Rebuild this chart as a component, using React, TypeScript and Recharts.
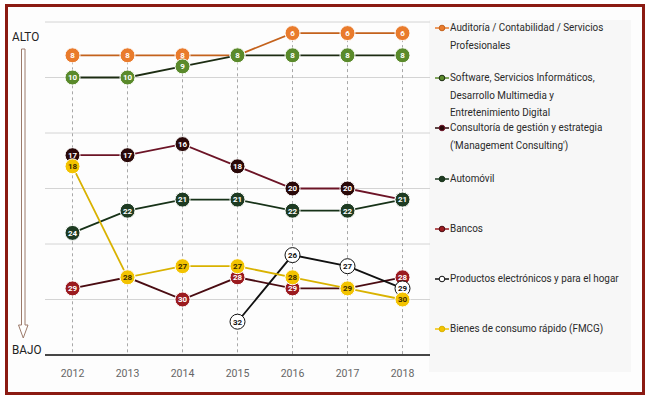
import React from 'react';
import { LineChart, Line, XAxis, YAxis, CartesianGrid, ReferenceLine } from 'recharts';

const years = [2012, 2013, 2014, 2015, 2016, 2017, 2018];
const auditoria = [8, 8, 8, 8, 6, 6, 6];
const software = [10, 10, 9, 8, 8, 8, 8];
const consultoria = [17, 17, 16, 18, 20, 20, 21];
const automovil = [24, 22, 21, 21, 22, 22, 21];
const bancos = [29, 28, 30, 28, 29, 29, 28];
const productos = [null, null, null, 32, 26, 27, 29];
const bienes = [18, 28, 27, 27, 28, 29, 30];
const rankTicks = [5, 10, 15, 20, 25, 30, 35];

interface Series {
  key: string;
  label: string[];
  values: (number | null)[];
  line: string;
  fill: string;
  ring: string;
  text: string;
}

const series: Series[] = [
  { key: 'auditoria', label: ['Auditoría / Contabilidad / Servicios', 'Profesionales'], values: auditoria, line: '#c4621c', fill: '#e97b2c', ring: '#ffffff', text: '#ffffff' },
  { key: 'software', label: ['Software, Servicios Informáticos,', 'Desarrollo Multimedia y', 'Entretenimiento Digital'], values: software, line: '#1c2c12', fill: '#5a8a2b', ring: '#ffffff', text: '#ffffff' },
  { key: 'consultoria', label: ['Consultoría de gestión y estrategia', "('Management Consulting')"], values: consultoria, line: '#6c1426', fill: '#2a0909', ring: '#ffffff', text: '#ffffff' },
  { key: 'automovil', label: ['Automóvil'], values: automovil, line: '#173218', fill: '#1e3b22', ring: '#ffffff', text: '#ffffff' },
  { key: 'bancos', label: ['Bancos'], values: bancos, line: '#4a0c12', fill: '#9b1b1f', ring: '#ffffff', text: '#ffffff' },
  { key: 'productos', label: ['Productos electrónicos y para el hogar'], values: productos, line: '#111111', fill: '#ffffff', ring: '#111111', text: '#111111' },
  { key: 'bienes', label: ['Bienes de consumo rápido (FMCG)'], values: bienes, line: '#d9b200', fill: '#f3c300', ring: '#ffffff', text: '#3a2a00' },
];

const data = years.map((year, i) => {
  const row: Record<string, number | null> = { year };
  series.forEach((s) => {
    row[s.key] = s.values[i];
  });
  return row;
});

// top of each vertical dashed guide = best rank in that year
const topRank = years.map((_, i) =>
  Math.min(...series.map((s) => s.values[i]).filter((v): v is number => v != null))
);

const font = 'Roboto, "Liberation Sans", sans-serif';

const makeDot = (s: Series) => (props: any) => {
  const { cx, cy, value, index } = props;
  if (value == null || cx == null || cy == null) return <g key={`${s.key}-${index}`} />;
  return (
    <g key={`${s.key}-${index}`}>
      <circle cx={cx} cy={cy} r={7.5} fill={s.fill} stroke={s.ring} strokeWidth={1} />
      <text
        x={cx}
        y={cy}
        dy="0.36em"
        textAnchor="middle"
        fontSize={8}
        fontWeight="bold"
        fontFamily={font}
        fill={s.text}
      >
        {value}
      </text>
    </g>
  );
};

const ChartLegend = () => (
  <div
    style={{
      position: 'absolute',
      left: 434,
      top: 19,
      fontFamily: font,
      fontSize: 11.5,
      color: '#2a2a2a',
    }}
  >
    {series.map((s, i) => (
      <div key={s.key} style={{ position: 'absolute', left: 0, top: 50.2 * i, width: 210 }}>
        <svg width={16} height={10} style={{ position: 'absolute', left: 0, top: 4 }}>
          <line x1={1} y1={5} x2={15} y2={5} stroke={s.key === 'productos' ? '#111' : s.fill} strokeWidth={1.5} />
          <circle cx={8} cy={5} r={2.8} fill={s.key === 'productos' ? '#fff' : s.fill} stroke={s.key === 'productos' ? '#111' : s.line} strokeWidth={1} />
        </svg>
        <div style={{ marginLeft: 16, transform: 'scaleX(0.86)', transformOrigin: 'left top' }}>
          {s.label.map((l, j) => (
            <div key={j} style={{ lineHeight: '17.5px', whiteSpace: 'nowrap' }}>
              {l}
            </div>
          ))}
        </div>
      </div>
    ))}
  </div>
);

const App: React.FC = () => {
  return (
    <div style={{ position: 'fixed', left: 0, top: 0, width: 650, height: 397, background: '#ffffff', overflow: 'hidden' }}>
      <div style={{ position: 'absolute', left: 6, top: 5, width: 636, height: 387, background: '#fdfdfd' }} />
      <div style={{ position: 'absolute', left: 429, top: 20, width: 202, height: 352, background: '#f7f7f7' }} />
      <div style={{ position: 'absolute', left: 12, top: 29, fontFamily: font, fontSize: 13, color: '#222', transform: 'scaleX(0.9)', transformOrigin: 'left top' }}>ALTO</div>
      <div style={{ position: 'absolute', left: 12, top: 342, fontFamily: font, fontSize: 13, color: '#222', transform: 'scaleX(0.9)', transformOrigin: 'left top' }}>BAJO</div>
      <svg width={20} height={300} style={{ position: 'absolute', left: 13, top: 48 }}>
        <path
          d="M8.5,1 L12,1 L12,277 L15,277 L10.25,290 L5.5,277 L8.5,277 Z"
          fill="#ffffff"
          stroke="#9c7a6a"
          strokeWidth={1}
        />
      </svg>
      <ChartLegend />
      <div style={{ position: 'absolute', left: 0, top: 0 }}>
        <LineChart width={650} height={397} data={data} margin={{ top: 22, right: 220, left: 45, bottom: 12 }}>
          <CartesianGrid vertical={false} stroke="#d4d4d4" strokeWidth={1} />
          <XAxis
            dataKey="year"
            type="number"
            domain={[2011.5, 2018.5]}
            ticks={years}
            interval={0}
            tickLine={false}
            axisLine={{ stroke: '#111', strokeWidth: 1.5 }}
            tick={{ fill: '#666', fontSize: 10.5, fontFamily: font }}
            tickMargin={9}
            height={30}
          />
          <YAxis hide reversed domain={[5, 35]} ticks={rankTicks} type="number" />
          {years.map((y, i) => (
            <ReferenceLine
              key={y}
              segment={[
                { x: y, y: topRank[i] },
                { x: y, y: 35 },
              ]}
              stroke="#a8a8a8"
              strokeDasharray="3 3"
              strokeWidth={1}
            />
          ))}
          {series.map((s) => (
            <Line
              key={s.key}
              dataKey={s.key}
              name={s.label.join(' ')}
              stroke={s.line}
              strokeWidth={1.8}
              dot={makeDot(s)}
              activeDot={false}
              isAnimationActive={false}
            />
          ))}
        </LineChart>
      </div>
      <div
        style={{
          position: 'absolute',
          left: 5,
          top: 4,
          width: 634,
          height: 385,
          border: '3px solid #8b1a12',
          pointerEvents: 'none',
          zIndex: 5,
        }}
      />
    </div>
  );
};

export default App;
